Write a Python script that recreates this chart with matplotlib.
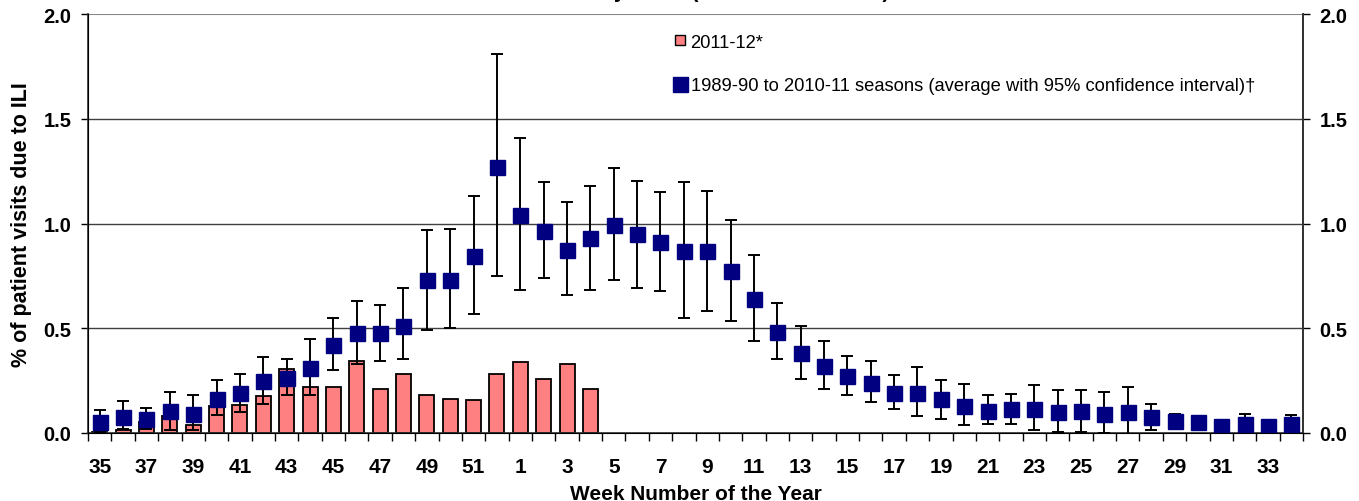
import numpy as np
import matplotlib.pyplot as plt
from matplotlib.lines import Line2D

plt.rcParams['font.family'] = ['Liberation Sans', 'DejaVu Sans']

# week numbers of the season, 35..52 then 1..34
weeks = list(range(35, 53)) + list(range(1, 35))

# 2011-12 season (weeks 35 .. 4)
season_2011 = [0.006, 0.016, 0.052, 0.079, 0.040, 0.127, 0.135, 0.175, 0.307, 0.219,
               0.219, 0.346, 0.211, 0.283, 0.180, 0.164, 0.156, 0.283, 0.337, 0.259,
               0.330, 0.211]

# 1989-90 to 2010-11 average with 95% CI
avg = [0.052, 0.076, 0.065, 0.105, 0.092, 0.164, 0.190, 0.248, 0.262, 0.310,
       0.418, 0.477, 0.477, 0.513, 0.728, 0.732, 0.844, 1.272, 1.042, 0.963,
       0.875, 0.932, 0.994, 0.948, 0.910, 0.867, 0.867, 0.772, 0.639, 0.481,
       0.383, 0.319, 0.272, 0.238, 0.190, 0.190, 0.164, 0.129, 0.105, 0.113,
       0.113, 0.100, 0.105, 0.092, 0.100, 0.076, 0.057, 0.052, 0.032, 0.043,
       0.032, 0.043]
ci_hi = [0.111, 0.151, 0.119, 0.195, 0.180, 0.251, 0.283, 0.361, 0.354, 0.448,
         0.550, 0.629, 0.613, 0.693, 0.969, 0.975, 1.131, 1.811, 1.409, 1.196,
         1.101, 1.180, 1.264, 1.203, 1.149, 1.196, 1.155, 1.015, 0.850, 0.621,
         0.510, 0.440, 0.367, 0.346, 0.275, 0.315, 0.251, 0.235, 0.180, 0.187,
         0.227, 0.203, 0.203, 0.195, 0.219, 0.140, 0.092, 0.062, 0.035, 0.092,
         0.035, 0.084]
ci_lo = [0.006, 0.020, 0.020, 0.016, 0.016, 0.087, 0.100, 0.140, 0.180, 0.180,
         0.299, 0.330, 0.346, 0.354, 0.492, 0.502, 0.566, 0.748, 0.683, 0.739,
         0.661, 0.683, 0.731, 0.693, 0.677, 0.550, 0.581, 0.534, 0.440, 0.354,
         0.259, 0.211, 0.180, 0.148, 0.116, 0.079, 0.068, 0.038, 0.044, 0.044,
         0.013, 0.005, 0.005, 0.000, -0.016, 0.016, 0.029, 0.042, 0.029, 0.005,
         0.029, 0.005]

ytick_vals = [0, 0.5, 1.0, 1.5, 2.0]
ytick_labels = ['0.0', '0.5', '1.0', '1.5', '2.0']

x = np.arange(len(weeks))
avg = np.array(avg)
yerr = [avg - np.array(ci_lo), np.array(ci_hi) - avg]

fig = plt.figure(figsize=(13.59, 5.02), dpi=100)
ax = fig.add_axes([0.0648, 0.1355, 0.894, 0.8345])

for v in [0.5, 1.0, 1.5]:
    ax.axhline(v, color='#404040', lw=1.0, zorder=0)
ax.axhline(2.0, color='#888888', lw=1.5, zorder=0)

ax.bar(x[:len(season_2011)], season_2011, width=0.64, color='#ff8080',
       edgecolor='black', linewidth=1.3, zorder=2)
ax.errorbar(x, avg, yerr=yerr, fmt='none', ecolor='black', elinewidth=1.4,
            capsize=4.3, capthick=1.4, zorder=3)
ax.plot(x, avg, 's', color='#000080', markersize=10.8, zorder=4)

ax.set_xlim(-0.5, len(weeks) - 0.5)
ax.set_ylim(0, 2.0)
ax.set_yticks(ytick_vals)
ax.set_yticklabels(ytick_labels, fontsize=14.5, fontweight='bold')
ax.tick_params(axis='y', direction='out', length=5, width=1, pad=7)

ax.set_xticks(x[::2])
ax.set_xticklabels([str(w) for w in weeks[::2]], fontsize=15, fontweight='bold')
ax.set_xticks(np.arange(-0.5, len(weeks)), minor=True)
ax.tick_params(axis='x', which='major', length=0, pad=17)
ax.tick_params(axis='x', which='minor', direction='out', length=6, width=1)

ax.spines['top'].set_visible(False)
for s in ['left', 'right', 'bottom']:
    ax.spines[s].set_color('#303030')
    ax.spines[s].set_linewidth(1.2)

ax2 = ax.twinx()
ax2.set_ylim(0, 2.0)
ax2.set_yticks(ytick_vals)
ax2.set_yticklabels(ytick_labels, fontsize=14.5, fontweight='bold')
ax2.tick_params(axis='y', direction='out', length=5, width=1, pad=7)
ax2.spines['top'].set_visible(False)
ax2.spines['right'].set_color('#303030')
ax2.spines['right'].set_linewidth(1.2)

ax.set_ylabel('% of patient visits due to ILI', fontsize=15.5, fontweight='bold', labelpad=8)
ax.set_xlabel('Week Number of the Year', fontsize=15, fontweight='bold', labelpad=6)

handles = [Line2D([], [], marker='s', markerfacecolor='#ff8080', markeredgecolor='black',
                  markeredgewidth=1.0, linestyle='none', markersize=7),
           Line2D([], [], marker='s', color='#000080', linestyle='none', markersize=10.8)]
labels = ['2011-12*', '1989-90 to 2010-11 seasons (average with 95% confidence interval)\u2020']
ax.legend(handles, labels, loc='upper left', bbox_to_anchor=(0.474, 0.971), frameon=False,
          fontsize=13.2, handlelength=0.9, handletextpad=0.15, labelspacing=1.45,
          borderaxespad=0)

fig.text(889 / 1359, 1.0 + 1.5 / 502, 'Visits for ILI by Week (Sentinel Providers)', ha='right',
         va='baseline', fontsize=15, fontweight='bold')

fig.savefig('out.png', dpi=100)
